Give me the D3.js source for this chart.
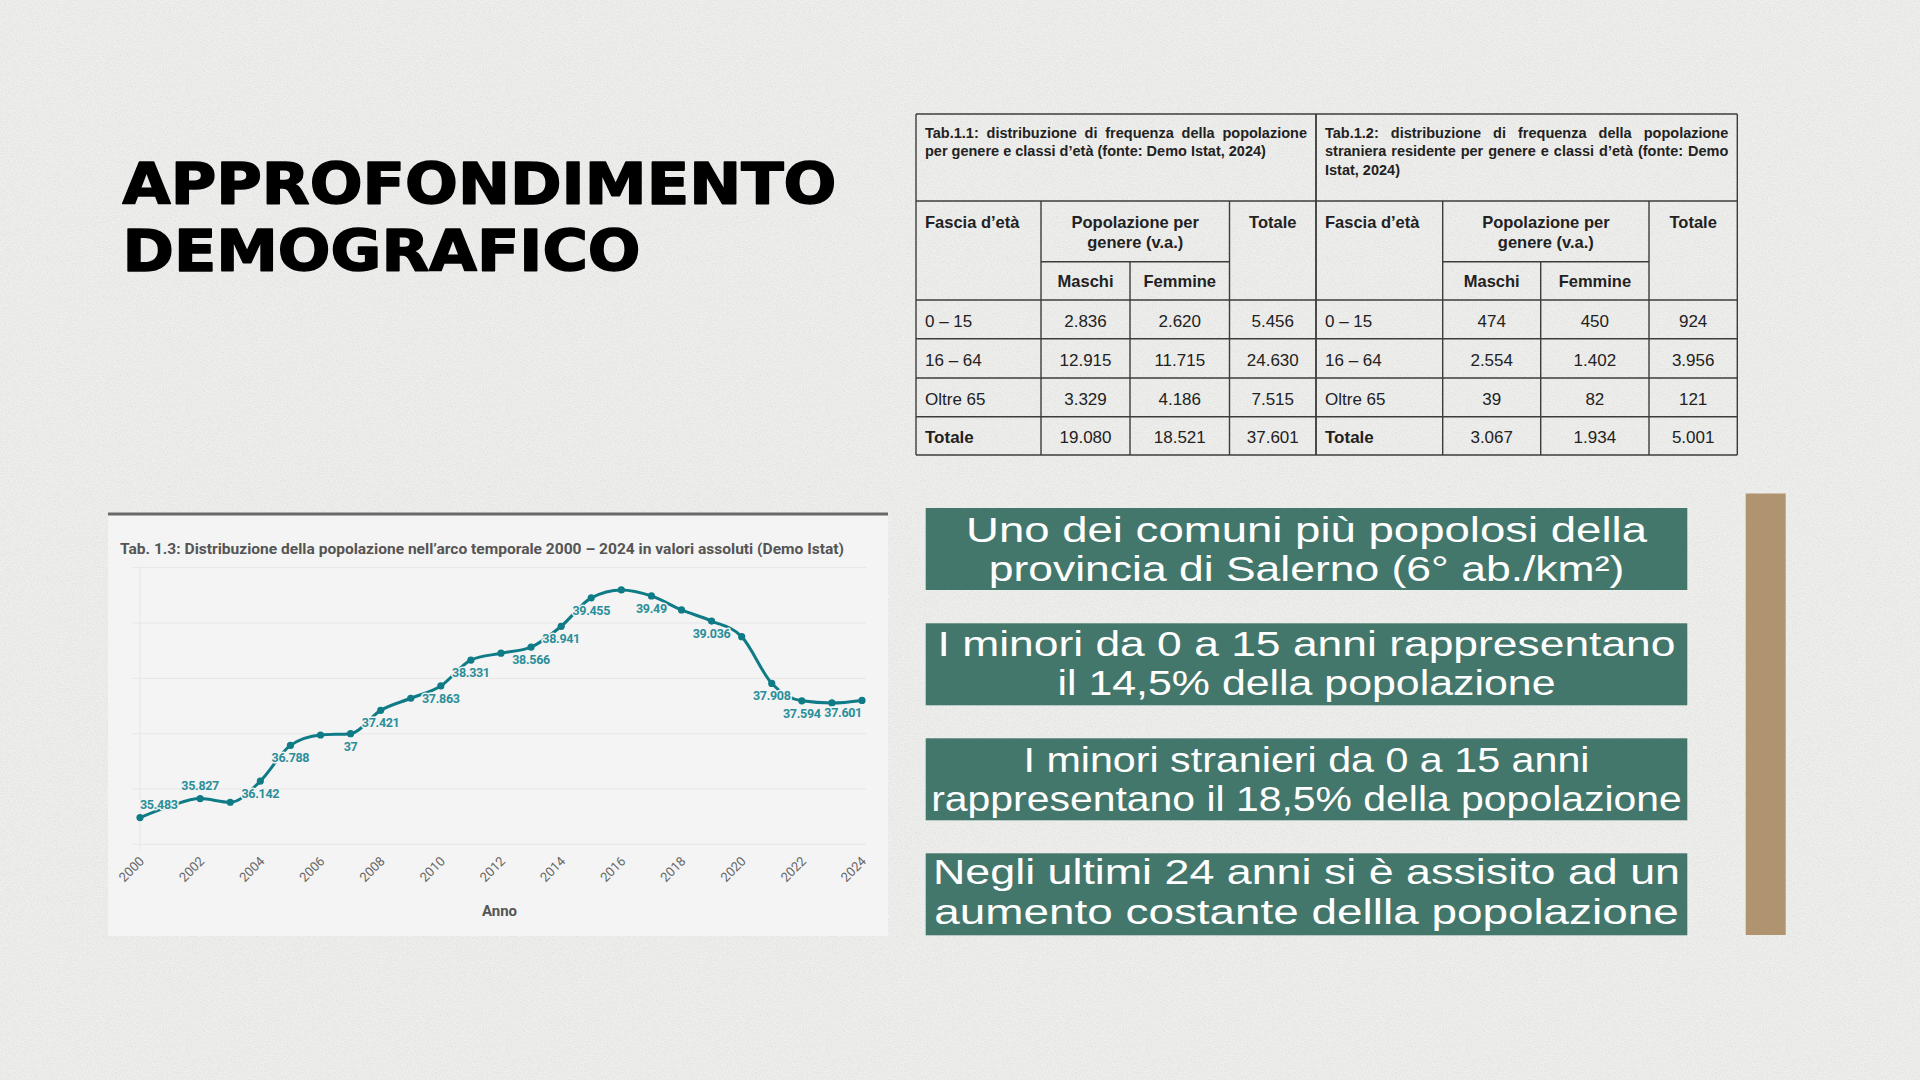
<!DOCTYPE html>
<html>
<head>
<meta charset="utf-8">
<script src="https://cdn.jsdelivr.net/npm/d3@7"></script>
<style>
  html, body { margin: 0; padding: 0; background: #eeeeec; }
  svg { display: block; }
</style>
</head>
<body>
<svg id="slide" width="1920" height="1080"></svg>
<script>
// ---------------- DATA ----------------
const titleLines = ["APPROFONDIMENTO", "DEMOGRAFICO"];

const chartTitle = "Tab. 1.3: Distribuzione della popolazione nell’arco temporale 2000 – 2024 in valori assoluti (Demo Istat)";
const xAxisTitle = "Anno";
const years = [2000, 2001, 2002, 2003, 2004, 2005, 2006, 2007, 2008, 2009, 2010, 2011, 2012,
               2013, 2014, 2015, 2016, 2017, 2018, 2019, 2020, 2021, 2022, 2023, 2024];
const population = [35.483, 35.69, 35.827, 35.76, 36.142, 36.788, 36.976, 37, 37.421, 37.64, 37.863, 38.331, 38.454,
                    38.566, 38.941, 39.455, 39.598, 39.49, 39.237, 39.036, 38.754, 37.908, 37.594, 37.555, 37.601];
const labeledYears = [2000, 2002, 2004, 2005, 2007, 2008, 2010, 2011, 2013, 2014, 2015, 2017, 2019, 2021, 2022, 2024];
const labelsAboveYears = [2000, 2002];
const xTickYears = [2000, 2002, 2004, 2006, 2008, 2010, 2012, 2014, 2016, 2018, 2020, 2022, 2024];
const yDomain = [35, 40];

const ageBands = ["0 – 15", "16 – 64", "Oltre 65", "Totale"];
const tab1Caption = ["Tab.1.1: distribuzione di frequenza della popolazione", "per genere e classi d’età (fonte: Demo Istat, 2024)"];
const tab1Maschi = [2836, 12915, 3329, 19080];
const tab1Femmine = [2620, 11715, 4186, 18521];
const tab1Totale = [5456, 24630, 7515, 37601];
const tab2Caption = ["Tab.1.2: distribuzione di frequenza della popolazione", "straniera residente per genere e classi d’età (fonte: Demo", "Istat, 2024)"];
const tab2Maschi = [474, 2554, 39, 3067];
const tab2Femmine = [450, 1402, 82, 1934];
const tab2Totale = [924, 3956, 121, 5001];
const headerLabels = ["Fascia d’età", "Popolazione per", "genere (v.a.)", "Totale", "Maschi", "Femmine"];

const boxLines = [
  ["Uno dei comuni più popolosi della", "provincia di Salerno (6° ab./km²)"],
  ["I minori da 0 a 15 anni rappresentano", "il 14,5% della popolazione"],
  ["I minori stranieri da 0 a 15 anni", "rappresentano il 18,5% della popolazione"],
  ["Negli ultimi 24 anni si è assisito ad un", "aumento costante dellla popolazione"]
];

// ---------------- SETUP ----------------
const svg = d3.select("#slide");
const itLocale = d3.formatLocale({ decimal: ",", thousands: ".", grouping: [3], currency: ["", " €"] });
const fmtInt = itLocale.format(",d");

// paper texture
const defs = svg.append("defs");
const f = defs.append("filter").attr("id", "paper").attr("x", 0).attr("y", 0).attr("width", "100%").attr("height", "100%");
f.append("feTurbulence").attr("type", "fractalNoise").attr("baseFrequency", 0.8).attr("numOctaves", 3).attr("seed", 7);
f.append("feColorMatrix").attr("type", "matrix")
  .attr("values", "0 0 0 0 0.42  0 0 0 0 0.42  0 0 0 0 0.41  0.45 0 0 0 -0.16");
svg.append("rect").attr("width", 1920).attr("height", 1080).attr("fill", "#efefed");
svg.append("rect").attr("width", 1920).attr("height", 1080).attr("filter", "url(#paper)").attr("opacity", 0.9);

// ---------------- TITLE ----------------
const titleWidths = [714, 518];
const titleBaselines = [204, 270.8];
svg.selectAll("text.title").data(titleLines).join("text")
  .attr("class", "title")
  .attr("x", 122.5)
  .attr("y", (d, i) => titleBaselines[i])
  .attr("textLength", (d, i) => titleWidths[i])
  .attr("lengthAdjust", "spacingAndGlyphs")
  .style("font-family", "'DejaVu Sans', sans-serif")
  .style("font-weight", 700)
  .style("font-size", "57px")
  .attr("fill", "#000")
  .attr("stroke", "#000").attr("stroke-width", 1.6).attr("stroke-linejoin", "round")
  .text(d => d);

// ---------------- TABLES ----------------
const rowTop = 114, capBottom = 201, subLine = 261.7;
const rowLines = [300, 338.7, 378, 416.7, 455];
const lineColor = "#3c3c3c";
const tableFont = "'Liberation Sans', Arial, sans-serif";

function justifyLine(sel, target) {
  const node = sel.node();
  const natural = node.getComputedTextLength();
  const spaces = (sel.text().match(/ /g) || []).length;
  if (spaces > 0 && natural < target) sel.style("word-spacing", ((target - natural) / spaces) + "px");
}

function drawTable(cols, caption, maschi, femmine, totale) {
  const g = svg.append("g");
  const L = cols[0], R = cols[4];
  const hl = (y, x1, x2) => g.append("line").attr("x1", x1).attr("x2", x2).attr("y1", y).attr("y2", y)
    .attr("stroke", lineColor).attr("stroke-width", 1.4);
  const vl = (x, y1, y2) => g.append("line").attr("x1", x).attr("x2", x).attr("y1", y1).attr("y2", y2)
    .attr("stroke", lineColor).attr("stroke-width", 1.4);
  hl(rowTop, L, R); hl(capBottom, L, R); hl(subLine, cols[1], cols[3]);
  rowLines.forEach(y => hl(y, L, R));
  vl(L, rowTop, 455); vl(R, rowTop, 455);
  vl(cols[1], capBottom, 455); vl(cols[3], capBottom, 455); vl(cols[2], subLine, 455);

  const capBase = [137.7, 156.3, 175];
  caption.forEach((line, i) => {
    const t = g.append("text").attr("x", L + 9).attr("y", capBase[i])
      .style("font-family", tableFont).style("font-weight", 700).style("font-size", "14.5px")
      .attr("fill", "#222").text(line);
    if (i < caption.length - 1) justifyLine(t, R - L - 18);
  });

  const hdr = (txt, x, y, anchor) => g.append("text").attr("x", x).attr("y", y).attr("text-anchor", anchor)
    .style("font-family", tableFont).style("font-weight", 700).style("font-size", "16.5px").attr("fill", "#222").text(txt);
  hdr(headerLabels[0], L + 9, 227.7, "start");
  hdr(headerLabels[1], (cols[1] + cols[3]) / 2, 227.7, "middle");
  hdr(headerLabels[2], (cols[1] + cols[3]) / 2, 248.3, "middle");
  hdr(headerLabels[3], (cols[3] + cols[4]) / 2, 227.7, "middle");
  hdr(headerLabels[4], (cols[1] + cols[2]) / 2, 286.7, "middle");
  hdr(headerLabels[5], (cols[2] + cols[3]) / 2, 286.7, "middle");

  ageBands.forEach((band, i) => {
    const yb = (rowLines[i] + rowLines[i + 1]) / 2 + 7.3;
    const isTot = i === ageBands.length - 1;
    g.append("text").attr("x", L + 9).attr("y", yb)
      .style("font-family", tableFont).style("font-weight", isTot ? 700 : 400).style("font-size", "17px")
      .attr("fill", "#222").text(band);
    [[maschi, cols[1], cols[2]], [femmine, cols[2], cols[3]], [totale, cols[3], cols[4]]].forEach(([arr, a, b]) => {
      g.append("text").attr("x", (a + b) / 2).attr("y", yb).attr("text-anchor", "middle")
        .style("font-family", tableFont).style("font-size", "17px").attr("fill", "#222").text(fmtInt(arr[i]));
    });
  });
}
drawTable([916, 1041, 1130, 1229.5, 1316], tab1Caption, tab1Maschi, tab1Femmine, tab1Totale);
drawTable([1316, 1442.7, 1540.7, 1649, 1737.3], tab2Caption, tab2Maschi, tab2Femmine, tab2Totale);

// ---------------- CHART PANEL ----------------
const panel = svg.append("g");
panel.append("rect").attr("x", 108).attr("y", 514).attr("width", 780).attr("height", 422).attr("fill", "#f4f4f4");
panel.append("line").attr("x1", 108).attr("x2", 888).attr("y1", 514).attr("y2", 514)
  .attr("stroke", "#686868").attr("stroke-width", 3);
panel.append("text").attr("x", 120).attr("y", 554)
  .attr("textLength", 724).attr("lengthAdjust", "spacingAndGlyphs")
  .style("font-family", "Roboto, sans-serif").style("font-weight", 700).style("font-size", "15.5px")
  .attr("fill", "#555").text(chartTitle);

const x = d3.scaleLinear().domain([years[0], years[years.length - 1]]).range([140, 862]);
const y = d3.scaleLinear().domain(yDomain).range([844.3, 567.7]);

// gridlines
panel.selectAll("line.grid").data(y.ticks(5)).join("line").attr("class", "grid")
  .attr("x1", 133).attr("x2", 866).attr("y1", d => y(d)).attr("y2", d => y(d))
  .attr("stroke", "#e6e6e6").attr("stroke-width", 1);
panel.append("line").attr("x1", x(years[0])).attr("x2", x(years[0])).attr("y1", y(yDomain[1])).attr("y2", y(yDomain[0]) + 6)
  .attr("stroke", "#e6e6e6").attr("stroke-width", 1);

// x tick labels
panel.selectAll("text.xtick").data(xTickYears).join("text").attr("class", "xtick")
  .attr("transform", d => `translate(${x(d) + 5},${862}) rotate(-45)`)
  .attr("text-anchor", "end")
  .style("font-family", "Roboto, sans-serif").style("font-size", "13px")
  .attr("fill", "#666").text(d => d);

panel.append("text").attr("x", (133 + 866) / 2).attr("y", 916).attr("text-anchor", "middle")
  .style("font-family", "Roboto, sans-serif").style("font-weight", 700).style("font-size", "15px")
  .attr("fill", "#555").text(xAxisTitle);

// line + points
const pts = years.map((yr, i) => ({ year: yr, value: population[i] }));
const lineGen = d3.line().x(d => x(d.year)).y(d => y(d.value)).curve(d3.curveMonotoneX);
const teal = "#0e7b86";
panel.append("path").datum(pts).attr("d", lineGen).attr("fill", "none")
  .attr("stroke", teal).attr("stroke-width", 3).attr("stroke-linejoin", "round");
panel.selectAll("circle.pt").data(pts).join("circle").attr("class", "pt")
  .attr("cx", d => x(d.year)).attr("cy", d => y(d.value)).attr("r", 3.6).attr("fill", teal);

// data labels
const xMin = x(years[0]), xMax = x(years[years.length - 1]);
const labelSel = panel.selectAll("text.dl").data(pts.filter(d => labeledYears.includes(d.year))).join("text")
  .attr("class", "dl")
  .attr("text-anchor", "middle")
  .attr("y", d => labelsAboveYears.includes(d.year) ? y(d.value) - 9 : y(d.value) + 17)
  .style("font-family", "Roboto, sans-serif").style("font-weight", 700).style("font-size", "12.5px")
  .style("letter-spacing", "-0.3px")
  .style("paint-order", "stroke").attr("stroke", "#f4f4f4").attr("stroke-width", 3).attr("stroke-linejoin", "round")
  .attr("fill", "#2a8e99")
  .text(d => String(d.value));
labelSel.each(function (d) {
  const w = this.getComputedTextLength();
  let cx = x(d.year);
  cx = Math.max(xMin + w / 2, Math.min(xMax - w / 2, cx));
  d3.select(this).attr("x", cx);
});

// ---------------- TEXT BOXES ----------------
const boxX = 925.7, boxW = 761.6, boxH = 82;
const boxTops = [508, 623.3, 738.3, 853.3];
const lineOffsets = [[33.5, 73.3], [32.3, 72], [33.3, 72.8], [31, 70.5]];
const lineWidths = [[681, 635.5], [738, 498], [566, 750.6], [747, 744.5]];
boxLines.forEach((lines, i) => {
  const g = svg.append("g");
  g.append("rect").attr("x", boxX).attr("y", boxTops[i]).attr("width", boxW).attr("height", boxH).attr("fill", "#44776c");
  lines.forEach((ln, j) => {
    g.append("text").attr("x", boxX + boxW / 2).attr("y", boxTops[i] + lineOffsets[i][j])
      .attr("text-anchor", "middle")
      .attr("textLength", lineWidths[i][j]).attr("lengthAdjust", "spacingAndGlyphs")
      .style("font-family", "'Liberation Sans', Arial, sans-serif").style("font-weight", 400).style("font-size", "35px")
      .attr("fill", "#ffffff").text(ln);
  });
});

// tan accent bar
svg.append("rect").attr("x", 1745.7).attr("y", 493.5).attr("width", 40).attr("height", 441.5).attr("fill", "#b09470");
</script>
</body>
</html>
